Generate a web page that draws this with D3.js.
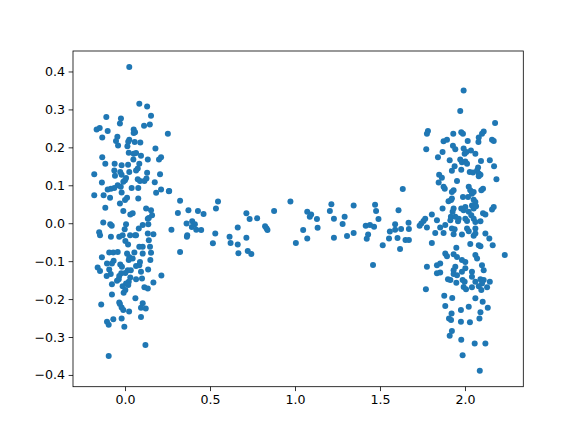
<!DOCTYPE html>
<html><head><meta charset="utf-8">
<script src="https://cdn.jsdelivr.net/npm/d3@7"></script>
<style>html,body{margin:0;padding:0;background:#fff;}svg{display:block;}</style>
</head><body>
<script>
const leftCluster = [[0.025,0.412],[0.084,0.315],[0.13,0.308],[0.153,0.283],[-0.11,0.28],[-0.024,0.276],[-0.03,0.263],[0.112,0.257],[0.146,0.26],[-0.167,0.247],[-0.149,0.251],[-0.102,0.243],[0.051,0.247],[0.051,0.238],[0.059,0.24],[0.252,0.236],[-0.134,0.226],[-0.045,0.228],[-0.053,0.217],[-0.041,0.205],[0.025,0.22],[0.019,0.215],[0.014,0.203],[0.057,0.214],[0.09,0.213],[0.179,0.197],[0.022,0.186],[0.051,0.183],[0.065,0.185],[0.094,0.178],[-0.134,0.174],[0.049,0.168],[0.134,0.168],[0.212,0.174],[0.2,0.168],
[-0.116,0.157],[-0.061,0.157],[-0.02,0.153],[0.018,0.154],[0.084,0.157],[0.075,0.144],[0.065,0.139],[-0.063,0.139],[-0.028,0.135],[-0.02,0.128],[0.025,0.135],[0.13,0.133],[0.206,0.129],[-0.181,0.129],[-0.059,0.125],[0.006,0.119],[0,0.113],[-0.01,0.109],[0.075,0.116],[0.088,0.111],[0.126,0.118],[0.114,0.111],[-0.136,0.107],[0.175,0.108],[-0.043,0.1],[-0.025,0.096],[-0.063,0.093],[-0.083,0.091],[-0.102,0.089],[0.039,0.093],[0.078,0.093],[0.212,0.089],[0.26,0.085],[-0.02,0.081],[0.183,0.08],[-0.181,0.074],[-0.126,0.074],[-0.088,0.067],[0.012,0.067],[0,0.061],[0.078,0.065],[-0.03,0.052],
[-0.116,0.041],[0.124,0.039],[0.153,0.034],[-0.01,0.032],[0.045,0.026],[0.031,0.023],[0.159,0.021],[0.14,0.014],[0.134,0.012],[-0.128,0.002],[-0.087,-0.003],[-0.078,-0.007],[0.006,-0.003],[0.104,-0.005],[0.137,-0.003],[-0.002,-0.016],[0.081,-0.014],[-0.152,-0.024],[-0.147,-0.032],[-0.083,-0.036],[-0.034,-0.036],[-0.014,-0.032],[0.03,-0.032],[0.059,-0.032],[0.065,-0.032],[0.134,-0.027],[0.167,-0.029],[0.002,-0.047],[0.018,-0.056],[0.14,-0.045],[0.084,-0.062],[0.104,-0.062],[0.147,-0.062],[-0.093,-0.077],[-0.069,-0.077],[-0.043,-0.076],[0.012,-0.08],[0.055,-0.077],[0.104,-0.08],[0.153,-0.078],
[0.025,-0.089],[-0.136,-0.09],[0.045,-0.093],[0.022,-0.097],[0.149,-0.097],[-0.067,-0.099],[-0.077,-0.106],[-0.106,-0.106],[-0.028,-0.109],[-0.018,-0.115],[0.065,-0.113],[0.084,-0.111],[0.088,-0.102],[-0.161,-0.117],[-0.147,-0.126],[-0.093,-0.122],[-0.084,-0.134],[0.016,-0.124],[0.034,-0.124],[0.002,-0.131],[0.094,-0.128],[0.136,-0.122],[-0.022,-0.132],[-0.034,-0.139],[-0.108,-0.139],[0.214,-0.138],[0.031,-0.143],[0.1,-0.146],[0.065,-0.148],[-0.047,-0.152],[-0.037,-0.148],[0.022,-0.154],[0.006,-0.159],[0.167,-0.156],[-0.077,-0.161],[-0.014,-0.166],[0.019,-0.163],[0.114,-0.169],[0.134,-0.172],[0.002,-0.176],[-0.008,-0.183],[-0.077,-0.188],[0.061,-0.198],[-0.034,-0.209],[-0.03,-0.213],[-0.14,-0.214],[0.104,-0.211],[0.094,-0.223],[0.122,-0.225],[-0.02,-0.222],[-0.01,-0.229],[0.024,-0.233],[0.094,-0.247],[-0.069,-0.253],[-0.02,-0.251],[-0.106,-0.26],[-0.096,-0.268],[-0.004,-0.273],[0.12,-0.321],[-0.096,-0.35]];

const middleCluster = [[0.258,0.084],[0.324,0.059],[0.547,0.057],[0.973,0.057],[0.311,0.027],[0.373,0.034],[0.429,0.032],[0.462,0.024],[0.535,0.039],[0.714,0.026],[0.877,0.032],[0.733,0.011],[0.777,0.013],[0.362,-0.001],[0.395,0.005],[0.411,-0.003],[0.393,-0.01],[0.419,-0.017],[0.448,-0.018],[0.273,-0.017],[0.663,-0.011],[0.824,-0.008],[0.832,-0.013],[0.838,-0.018],[0.366,-0.032],[0.364,-0.036],[0.531,-0.027],[0.615,-0.036],[0.714,-0.038],[0.517,-0.053],[0.621,-0.052],[0.663,-0.056],[1.005,-0.052],[0.324,-0.076],[0.667,-0.079],[0.722,-0.073],[0.743,-0.081],
[1.634,0.09],[1.214,0.05],[1.205,0.032],[1.345,0.047],[1.471,0.049],[1.477,0.032],[1.072,0.03],[1.095,0.023],[1.087,0.017],[1.129,0.011],[1.229,0.012],[1.292,0.017],[1.491,0.011],[1.609,0.034],[1.28,-0.002],[1.416,-0.007],[1.441,-0.005],[1.465,-0.009],[1.589,-0.003],[1.668,0.001],[1.048,-0.018],[1.133,-0.012],[1.345,-0.026],[1.43,-0.03],[1.558,-0.022],[1.589,-0.017],[1.624,-0.015],[1.67,-0.015],[1.072,-0.04],[1.229,-0.038],[1.306,-0.034],[1.422,-0.041],[1.553,-0.04],[1.603,-0.039],[1.65,-0.044],[1.67,-0.044],[1.516,-0.058],[1.618,-0.068],[1.459,-0.11]];

const rightCluster = [[1.992,0.35],[1.972,0.296],[2.177,0.264],[1.782,0.243],[1.776,0.236],[1.931,0.236],[1.978,0.24],[1.988,0.236],[2.11,0.242],[2.1,0.236],[2.081,0.226],[2.079,0.214],[1.874,0.216],[1.894,0.22],[2.016,0.217],[2.159,0.22],[2.169,0.217],[1.772,0.195],[1.929,0.204],[1.943,0.195],[1.992,0.197],[1.868,0.188],[1.998,0.183],[2.008,0.188],[2.035,0.192],[2.061,0.183],[1.841,0.174],[1.91,0.166],[1.972,0.168],[1.982,0.161],[2.002,0.163],[2.012,0.157],[2.094,0.164],[2.146,0.166],[1.939,0.15],[1.978,0.141],[2.077,0.147],[2.171,0.15],[1.923,0.138],[2.028,0.135],[2.047,0.134],[2.071,0.139],[2.081,0.131],[2.091,0.128],[1.848,0.128],[1.864,0.12],
[1.845,0.107],[1.953,0.111],[2.081,0.124],[2.185,0.116],[1.881,0.091],[1.874,0.096],[1.923,0.082],[1.933,0.087],[2.022,0.096],[2.031,0.087],[2.041,0.078],[2.051,0.082],[2.106,0.091],[2.096,0.087],[1.988,0.069],[2.018,0.069],[2.051,0.062],[2.061,0.056],[1.903,0.058],[1.918,0.061],[1.923,0.065],[1.868,0.039],[1.933,0.039],[1.927,0.03],[1.978,0.039],[1.992,0.034],[2.002,0.043],[2.041,0.047],[2.051,0.039],[2.065,0.045],[2.159,0.036],[2.169,0.043],[2.106,0.026],[2.12,0.023],[2.022,0.03],[2.037,0.021],[1.805,0.023],[1.917,0.017],[1.943,0.017],[1.914,0.008],[1.766,0.012],[1.756,0.006],[1.743,-0.001],[1.733,-0.007],[1.835,0.008],[1.963,0.012],[1.959,0.005],[2.002,0.012],[2.012,0.006],[2.051,0.012],[2.061,0.003],[2.091,0.005],[1.776,-0.011],[1.854,-0.011],[1.884,-0.005],[1.923,-0.014],[1.939,-0.016],[2.012,-0.014],[2.022,-0.021],[2.061,-0.014],[1.825,-0.026],[1.874,-0.026],[1.933,-0.029],[1.982,-0.03],[2.051,-0.033],[2.061,-0.027],[2.12,-0.027],[2.143,-0.04],[2.163,-0.058],[1.805,-0.052],[2.031,-0.055],[2.081,-0.058],[2.091,-0.061],[1.949,-0.065],[2.234,-0.084],[1.884,-0.08],[1.894,-0.087],[1.933,-0.082],[1.953,-0.089],[2.061,-0.084],[2.071,-0.093],[1.982,-0.097],[2.002,-0.102],[1.776,-0.115],[1.835,-0.111],[1.854,-0.106],[1.943,-0.115],[1.933,-0.124],[2.1,-0.111],[2.11,-0.124],[2.002,-0.119],[1.835,-0.132],[1.854,-0.13],
[1.933,-0.134],[1.953,-0.137],[1.982,-0.128],[2.041,-0.128],[1.9,-0.148],[1.914,-0.15],[1.949,-0.157],[1.986,-0.15],[1.998,-0.154],[2.041,-0.141],[2.061,-0.154],[2.091,-0.148],[2.11,-0.15],[2.1,-0.159],[2.146,-0.154],[1.992,-0.168],[2.006,-0.174],[2.041,-0.169],[2.081,-0.166],[2.096,-0.176],[2.13,-0.169],[1.77,-0.174],[1.878,-0.191],[1.925,-0.197],[2.061,-0.198],[2.104,-0.207],[1.884,-0.218],[2.022,-0.22],[2.134,-0.223],[1.976,-0.229],[2.091,-0.235],[1.921,-0.238],[1.906,-0.251],[1.918,-0.255],[1.976,-0.26],[2.029,-0.261],[2.085,-0.251],[1.923,-0.284],[1.91,-0.297],[1.978,-0.307],[2.057,-0.317],[2.12,-0.317],[1.986,-0.348],[2.087,-0.389]];

const xTicks = [0.0, 0.5, 1.0, 1.5, 2.0];
const yTicks = [-0.4, -0.3, -0.2, -0.1, 0.0, 0.1, 0.2, 0.3, 0.4];
const xLimits = [-0.306, 2.343];
const yLimits = [-0.431, 0.454];

const W = 581, H = 435;
const margin = {left: 73, right: 581 - 523.3, top: 51, bottom: 435 - 386.7};
const iw = W - margin.left - margin.right, ih = H - margin.top - margin.bottom;

const svg = d3.select("body").append("svg").attr("width", W).attr("height", H);
const g = svg.append("g").attr("transform", `translate(${margin.left},${margin.top})`);

const x = d3.scaleLinear().domain(xLimits).range([0, iw]);
const y = d3.scaleLinear().domain(yLimits).range([ih, 0]);

const fmt = v => d3.format(".1f")(v).replace("-", "\u2212");
const font = "'DejaVu Sans', sans-serif";

const points = leftCluster.concat(middleCluster, rightCluster);
g.append("g").selectAll("circle").data(points).join("circle")
  .attr("cx", d => x(d[0])).attr("cy", d => y(d[1])).attr("r", 3)
  .attr("fill", "#1f77b4");

const xAxis = g.append("g").attr("transform", `translate(0,${ih})`)
  .call(d3.axisBottom(x).tickValues(xTicks).tickFormat(fmt).tickSizeOuter(0).tickSize(4.4).tickPadding(3.5));
const yAxis = g.append("g")
  .call(d3.axisLeft(y).tickValues(yTicks).tickFormat(fmt).tickSizeOuter(0).tickSize(4.4).tickPadding(3.5));
[xAxis, yAxis].forEach(a => {
  a.select(".domain").remove();
  a.selectAll("line").attr("stroke", "#000").attr("stroke-width", 0.8);
  a.selectAll("text").attr("font-family", font).attr("font-size", "12.6px").attr("fill", "#000");
});

g.append("rect").attr("x", 0).attr("y", 0).attr("width", iw).attr("height", ih)
  .attr("fill", "none").attr("stroke", "#000").attr("stroke-width", 0.8);
</script>
</body></html>
